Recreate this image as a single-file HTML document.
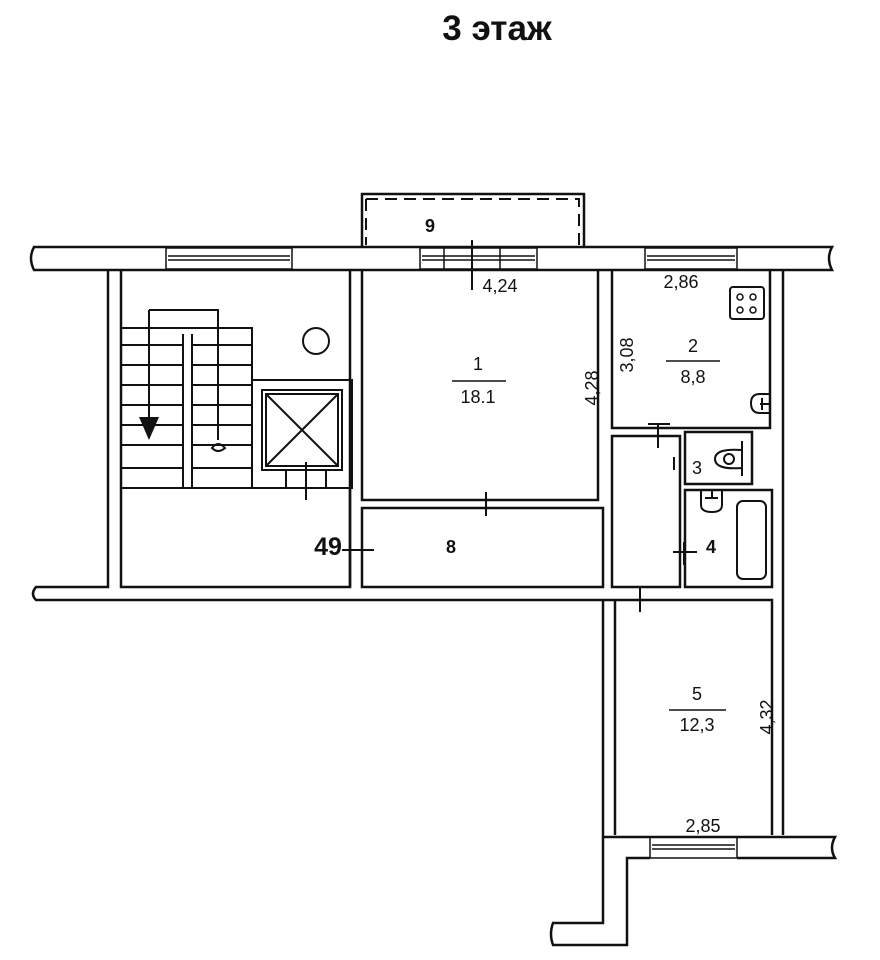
<!DOCTYPE html>
<html><head><meta charset="utf-8"><style>
body{margin:0;background:#fff;width:880px;height:960px;overflow:hidden}
svg{display:block}
text{font-family:"Liberation Sans",sans-serif;fill:#111}
</style></head><body>
<svg width="880" height="960" viewBox="0 0 880 960" xmlns="http://www.w3.org/2000/svg">
<g fill="none" stroke="#111" stroke-width="2.5">
<path d="M34,247 H832 Q826,258 832,270 H34 Q28,258 34,247 Z" fill="#fff"/>
<g stroke-width="1.5">
<rect x="166" y="248" width="126" height="21"/><line x1="168" y1="256" x2="290" y2="256"/><line x1="168" y1="260" x2="290" y2="260"/>
<rect x="420" y="248" width="117" height="21"/><line x1="422" y1="256" x2="535" y2="256"/><line x1="422" y1="260" x2="535" y2="260"/>
<line x1="444" y1="248" x2="444" y2="269"/><line x1="500" y1="248" x2="500" y2="269"/>
<rect x="645" y="248" width="92" height="21"/><line x1="647" y1="256" x2="735" y2="256"/><line x1="647" y1="260" x2="735" y2="260"/>
</g>
<path d="M362,247 V194 H584 V247"/>
<path d="M366,199 H579 V245 M366,199 V245" stroke-dasharray="12,7" stroke-width="2"/>
<path d="M108,270 V587 H36 Q30,594 36,600 H604"/>
<path d="M121,270 V587 H350 V270"/>
<path d="M362,270 V500 H598 V270"/>
<path d="M362,508 H603 V587 H362 Z"/>
<path d="M350,488 V587"/>
<path d="M612,270 V428 H770 V270"/>
<path d="M783,270 V835"/>
<path d="M612,436 H680 V587 H612 Z"/>
<path d="M685,432 H752 V484 H685 Z"/>
<path d="M685,490 H772 V587 H685 Z"/>
<path d="M604,600 H772 V835"/>
<path d="M615,600 V835"/>
<path d="M603,600 V923 H553 Q549,934 553,945 H627 V858 H650"/>
<path d="M603,837 H835 Q829,848 835,858 H737"/>
<rect x="650" y="837" width="87" height="21" stroke-width="1.5"/>
<line x1="652" y1="845" x2="735" y2="845" stroke-width="1.5"/><line x1="652" y1="849" x2="735" y2="849" stroke-width="1.5"/>
<g stroke-width="2">
<path d="M121,328 H252 V380"/>
<path d="M183,334 V488 M192,334 V488"/>
<path d="M121,345 H183 M192,345 H252 M121,365 H183 M192,365 H252 M121,385 H183 M192,385 H252 M121,405 H183 M192,405 H252 M121,425 H183 M192,425 H252 M121,445 H183 M192,445 H252 M121,468 H183 M192,468 H252"/>
<path d="M121,488 H352"/>
<path d="M149,310 V330 M149,310 H218 V440"/>
<path d="M149,330 V420"/>
<path d="M212,448 Q218,440 225,448 Q218,454 212,448 Z"/>
<circle cx="316" cy="341" r="13"/>
<rect x="252" y="380" width="100" height="108"/>
<rect x="262" y="390" width="80" height="80"/>
<rect x="266" y="394" width="72" height="72"/>
<path d="M266,394 L338,466 M338,394 L266,466"/>
<path d="M286,470 V488 M326,470 V488 M306,462 V500"/>
</g>
<polygon points="139,417 159,417 149,440" fill="#111" stroke="none"/>
<g stroke-width="2">
<path d="M472,240 V290 M486,492 V516 M342,550 H374 M648,424 H670 M658,423 V448 M673,552 H697 M684,542 V565 M640,588 V612 M674,457 V470"/>
</g>
<rect x="730" y="287" width="34" height="32" rx="3" stroke-width="2"/>
<g stroke-width="1.5"><circle cx="740" cy="297" r="3"/><circle cx="753" cy="297" r="3"/><circle cx="740" cy="310" r="3"/><circle cx="753" cy="310" r="3"/></g>
<path d="M770,394 H760 Q751,394 751,403 Q751,413 760,413 H770 M760,404 H770 M762,398 V410" stroke-width="2"/>
<path d="M742,441 V476 M742,450 Q715,448 715,459 Q715,470 742,468" stroke-width="2"/>
<circle cx="729" cy="459" r="5" stroke-width="2"/>
<path d="M701,490 V505 Q701,512 712,512 Q722,512 722,505 V490 M705,498 H718 M712,490 V498" stroke-width="2"/>
<rect x="737" y="501" width="29" height="78" rx="6" stroke-width="2"/>
</g>
<g stroke="#111" stroke-width="1.5">
<line x1="452" y1="381" x2="506" y2="381"/>
<line x1="666" y1="361" x2="720" y2="361"/>
<line x1="669" y1="710" x2="726" y2="710"/>
</g>
<text x="497" y="40" font-size="35" font-weight="bold" text-anchor="middle">3 этаж</text>
<text x="430" y="232" font-size="18" font-weight="bold" text-anchor="middle">9</text>
<text x="500" y="292" font-size="18" text-anchor="middle">4,24</text>
<text x="681" y="288" font-size="18" text-anchor="middle">2,86</text>
<text x="478" y="370" font-size="18" text-anchor="middle">1</text>
<text x="478" y="403" font-size="18" text-anchor="middle">18.1</text>
<text x="693" y="352" font-size="18" text-anchor="middle">2</text>
<text x="693" y="383" font-size="18" text-anchor="middle">8,8</text>
<text transform="translate(598,388) rotate(-90)" font-size="18" text-anchor="middle">4,28</text>
<text transform="translate(633,355) rotate(-90)" font-size="18" text-anchor="middle">3,08</text>
<text x="697" y="474" font-size="18" text-anchor="middle">3</text>
<text x="711" y="553" font-size="18" font-weight="bold" text-anchor="middle">4</text>
<text x="451" y="553" font-size="18" font-weight="bold" text-anchor="middle">8</text>
<text x="328" y="555" font-size="25" font-weight="bold" text-anchor="middle">49</text>
<text x="697" y="700" font-size="18" text-anchor="middle">5</text>
<text x="697" y="731" font-size="18" text-anchor="middle">12,3</text>
<text transform="translate(773,717) rotate(-90)" font-size="18" text-anchor="middle">4,32</text>
<text x="703" y="832" font-size="18" text-anchor="middle">2,85</text>
</svg>
</body></html>
